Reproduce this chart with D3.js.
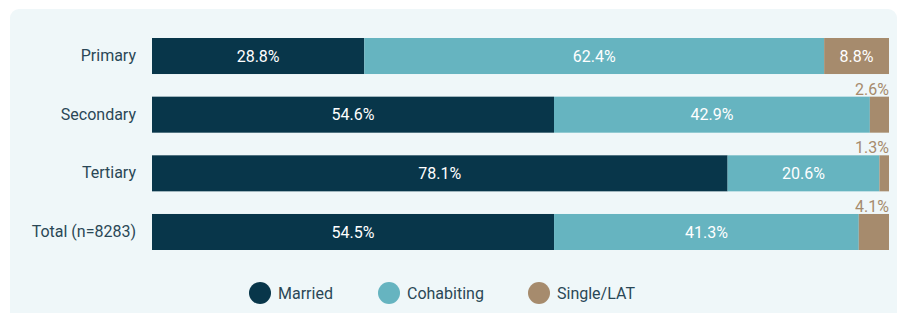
<!DOCTYPE html>
<html>
<head>
<meta charset="utf-8">
<script src="https://cdn.jsdelivr.net/npm/d3@7"></script>
<style>
  body { margin: 0; background: #fff; font-family: Roboto, sans-serif; }
</style>
</head>
<body>
<script>
    let categories = ["Primary", "Secondary", "Tertiary", "Total (n=8283)"];
    let series = ["Married", "Cohabiting", "Single/LAT"];
    let married = [28.8, 54.6, 78.1, 54.5];
    let cohabiting = [62.4, 42.9, 20.6, 41.3];
    let single = [8.8, 2.6, 1.3, 4.1];
    let colors = ["#08364a", "#66b4c0", "#a68b6d"];

    let rows = categories.map((c, i) => ({
      category: c, "Married": married[i], "Cohabiting": cohabiting[i], "Single/LAT": single[i]
    }));

    let width = 898, height = 313;
    let padding = {"left": 152, "right": 9, "top": 38};

    const svg = d3.select("body")
      .append("svg")
      .attr("width", width)
      .attr("height", height);

    // panel background
    svg.append("rect")
      .attr("x", 10)
      .attr("y", 9)
      .attr("width", 887)
      .attr("height", 320)
      .attr("rx", 9)
      .attr("fill", "#eff7f9");

    let stacked = d3.stack()
      .keys(series)
      .offset(d3.stackOffsetExpand)(rows);

    let xscale = d3.scaleLinear()
      .domain([0, 1])
      .range([padding.left, width - padding.right]);

    let yscale = d3.scaleBand()
      .domain(categories)
      .range([padding.top, 250])
      .paddingInner(0.386)
      .paddingOuter(0);

    let color = d3.scaleOrdinal().domain(series).range(colors);

    let groups = svg.selectAll("g.series")
      .data(stacked)
      .enter()
      .append("g")
      .attr("class", "series")
      .attr("fill", (d) => color(d.key));

    groups.selectAll("rect")
      .data((d) => d)
      .enter()
      .append("rect")
      .attr("x", (d) => xscale(d[0]))
      .attr("y", (d) => yscale(d.data.category))
      .attr("width", (d) => xscale(d[1]) - xscale(d[0]))
      .attr("height", yscale.bandwidth());

    // value labels
    stacked.forEach((s) => {
      s.forEach((d) => {
        let v = d.data[s.key];
        let w = xscale(d[1]) - xscale(d[0]);
        let t = svg.append("text")
          .text(v.toFixed(1) + "%")
          .style("font-size", "16px")
          .style("font-family", "Roboto, sans-serif");
        if (w > 50) {
          t.attr("x", (xscale(d[0]) + xscale(d[1])) / 2)
            .attr("y", yscale(d.data.category) + yscale.bandwidth() / 2)
            .attr("dy", "0.35em")
            .attr("text-anchor", "middle")
            .attr("fill", "#ffffff");
        } else {
          t.attr("x", xscale(d[1]))
            .attr("y", yscale(d.data.category) - 2)
            .attr("text-anchor", "end")
            .attr("fill", color(s.key));
        }
      });
    });

    // category axis
    let y_axis = d3.axisLeft()
      .scale(yscale)
      .tickSize(0)
      .tickPadding(16);

    let yg = svg.append("g")
      .attr("transform", "translate(" + padding.left + ",0)")
      .call(y_axis);
    yg.select(".domain").remove();
    yg.selectAll("text")
      .style("font-size", "16px")
      .style("font-family", "Roboto, sans-serif")
      .attr("fill", "#2a4756");

    // legend
    let legendX = [260, 389, 539];
    let legend = svg.append("g")
      .selectAll("g")
      .data(series)
      .enter()
      .append("g")
      .attr("transform", (d, i) => "translate(" + legendX[i] + ",293)");

    legend.append("circle")
      .attr("r", 11)
      .attr("fill", (d) => color(d));

    legend.append("text")
      .text((d) => d)
      .attr("x", 18)
      .attr("dy", "0.35em")
      .style("font-size", "16px")
      .style("font-family", "Roboto, sans-serif")
      .attr("fill", "#2a4756");
</script>
</body>
</html>
